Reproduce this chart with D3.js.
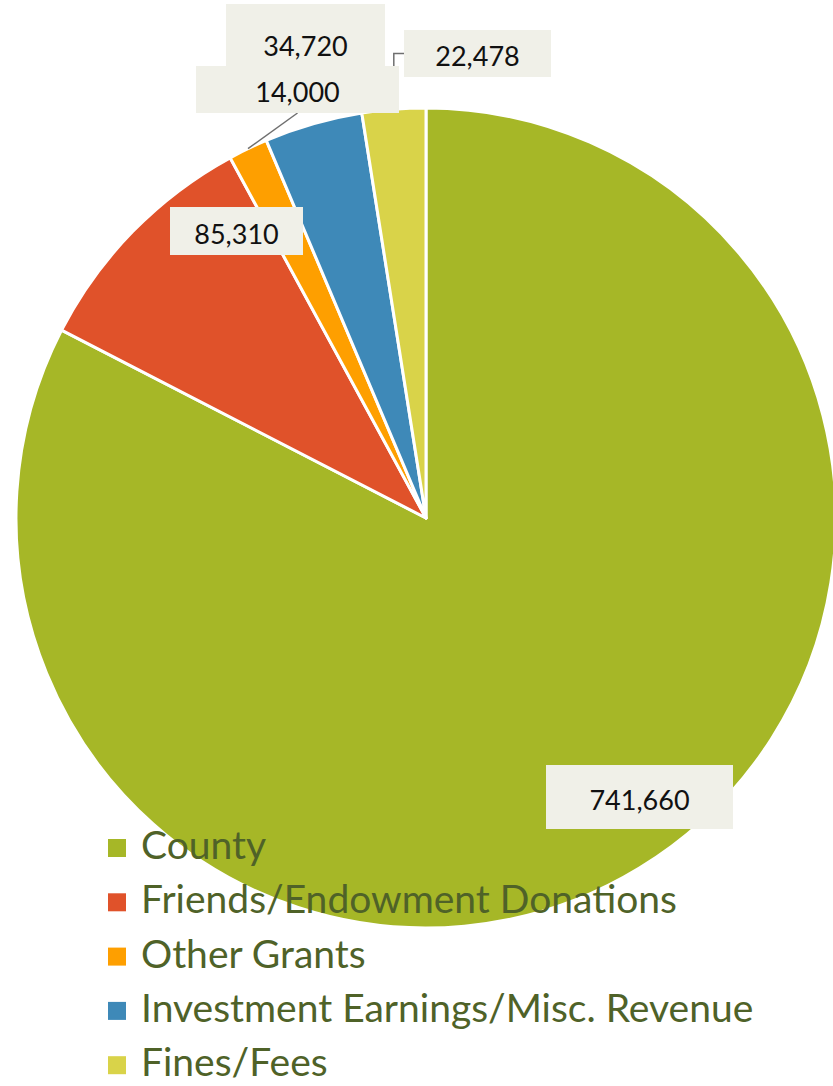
<!DOCTYPE html>
<html>
<head>
<meta charset="utf-8">
<script src="https://cdn.jsdelivr.net/npm/d3@7"></script>
<style>
  html, body { margin: 0; padding: 0; background: #ffffff; }
  svg { display: block; }
</style>
</head>
<body>
<svg id="chart" width="833" height="1086"></svg>
<script>
// Revenue sources
const categories = [
  "County",
  "Friends/Endowment Donations",
  "Other Grants",
  "Investment Earnings/Misc. Revenue",
  "Fines/Fees"
];
const values = [741660, 85310, 14000, 34720, 22478];
const sliceColors = ["#a6b727", "#e0522a", "#fe9f00", "#3e89b8", "#d9d349"];

// Data-label callout boxes: [left, top, width, height]
const labelBoxes = [
  [546, 765, 187, 64],
  [170, 207, 133, 48],
  [196, 66, 203, 47],
  [226, 4, 159, 78],
  [404, 30, 147, 47]
];
// Which callouts get a leader line back to their slice
const hasLeader = [false, false, true, false, true];
// Stacking order of the callouts (later ones sit on top)
const labelOrder = [0, 1, 3, 4, 2];

const svg = d3.select("#chart");
const cx = 426, cy = 518, radius = 410;

const fmt = d3.format(",");

const pie = d3.pie().sort(null).value(d => d.value);
const arcs = pie(categories.map((c, i) => ({ name: c, value: values[i], i })));

const arc = d3.arc().innerRadius(0).outerRadius(radius);

const g = svg.append("g").attr("transform", `translate(${cx},${cy})`);

g.selectAll("path.slice")
  .data(arcs)
  .join("path")
  .attr("class", "slice")
  .attr("d", arc)
  .attr("fill", d => sliceColors[d.data.i])
  .attr("stroke", "#ffffff")
  .attr("stroke-width", 3)
  .attr("stroke-linejoin", "round");

// Leader lines from callouts to the outer edge of their slices
const edgePoint = d => {
  const a = (d.startAngle + d.endAngle) / 2;
  return [cx + radius * Math.sin(a), cy - radius * Math.cos(a)];
};

const leaders = svg.append("g")
  .attr("fill", "none")
  .attr("stroke", "#6f6f6f")
  .attr("stroke-width", 1.5);

arcs.forEach(d => {
  const i = d.data.i;
  if (!hasLeader[i]) return;
  const [bx, by, bw, bh] = labelBoxes[i];
  const [px, py] = edgePoint(d);
  let pts;
  if (px < bx) {
    // elbow: out of the box's left side, then down to the slice
    const ly = by + bh / 2;
    pts = [[bx, ly], [px, ly], [px, py]];
  } else {
    pts = [[bx + bw / 2, by + bh], [px, py]];
  }
  leaders.append("path").attr("d", d3.line()(pts));
});

// Callout boxes with values
const labels = svg.append("g");
labelOrder.forEach(i => {
  const [bx, by, bw, bh] = labelBoxes[i];
  const lg = labels.append("g");
  lg.append("rect")
    .attr("x", bx).attr("y", by)
    .attr("width", bw).attr("height", bh)
    .attr("fill", "#f0f0e8");
  lg.append("text")
    .attr("x", bx + bw / 2)
    .attr("y", by + bh / 2 + 2)
    .attr("text-anchor", "middle")
    .attr("dominant-baseline", "central")
    .attr("font-family", "Lato, 'Open Sans', sans-serif")
    .attr("font-size", 27)
    .attr("fill", "#111111")
    .text(fmt(values[i]));
});

// Legend, drawn over the pie
const legend = svg.append("g");
categories.forEach((c, i) => {
  const y0 = 839 + i * 54.3;
  legend.append("rect")
    .attr("x", 108).attr("y", y0)
    .attr("width", 18).attr("height", 18)
    .attr("fill", sliceColors[i]);
  legend.append("text")
    .attr("x", 141)
    .attr("y", y0 + 20)
    .attr("font-family", "Lato, 'Open Sans', sans-serif")
    .attr("font-size", 39)
    .attr("fill", "#4f6228")
    .text(c);
});
</script>
</body>
</html>
